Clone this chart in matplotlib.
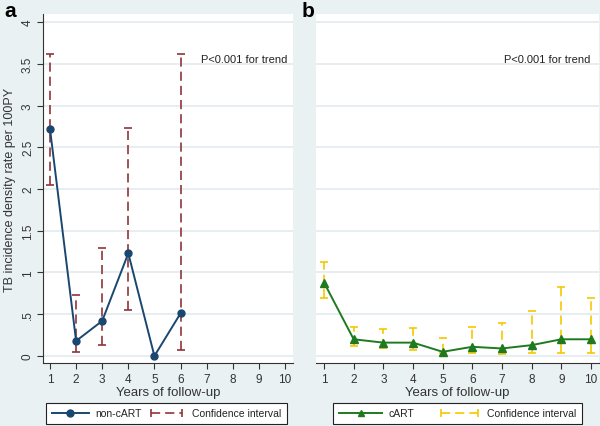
import matplotlib
matplotlib.use("Agg")
import matplotlib.pyplot as plt
from matplotlib.lines import Line2D
from matplotlib.legend_handler import HandlerLine2D
import numpy as np

plt.rcParams['font.family'] = ['Liberation Sans', 'DejaVu Sans']

# Panel a: non-cART
years_a = [1, 2, 3, 4, 5, 6]
rate_a = [2.72, 0.18, 0.42, 1.23, 0.0, 0.51]
ci_years_a = [1, 2, 3, 4, 6]
ci_low_a = [2.05, 0.05, 0.13, 0.55, 0.07]
ci_high_a = [3.62, 0.73, 1.29, 2.73, 3.62]

# Panel b: cART
years_b = [1, 2, 3, 4, 5, 6, 7, 8, 9, 10]
rate_b = [0.88, 0.20, 0.16, 0.16, 0.05, 0.11, 0.09, 0.13, 0.20, 0.20]
ci_low_b = [0.70, 0.12, 0.09, 0.07, 0.03, 0.03, 0.02, 0.03, 0.04, 0.04]
ci_high_b = [1.12, 0.35, 0.32, 0.33, 0.22, 0.35, 0.40, 0.54, 0.83, 0.69]

yticks = [0, 0.5, 1, 1.5, 2, 2.5, 3, 3.5, 4]
ytick_labels = ["0", ".5", "1", "1.5", "2", "2.5", "3", "3.5", "4"]
xticks = list(range(1, 11))

BG = '#EAF1F3'
GRID = '#E6EEF1'
NAVY = '#1A476F'
MAROON = '#90353B'
GREEN = '#1F7A1F'
GOLD = '#F5C800'

fig = plt.figure(figsize=(6, 4.27), dpi=100, facecolor=BG)

W, H = 600.0, 427.0
def ax_rect(x0, x1, y0, y1):
    return [x0 / W, 1 - y1 / H, (x1 - x0) / W, (y1 - y0) / H]

axa = fig.add_axes(ax_rect(43, 293, 15, 364))
axb = fig.add_axes(ax_rect(316, 599, 15, 364))

def style(ax, show_y):
    ax.set_facecolor('white')
    ax.set_ylim(-0.084, 4.096)
    ax.set_yticks(yticks)
    for y in yticks:
        ax.axhline(y, color=GRID, lw=1.4, zorder=0)
    ax.set_xticks(xticks)
    ax.set_xticklabels([str(x) for x in xticks], fontsize=8.5, color='#333333')
    ax.tick_params(axis='x', direction='out', length=4, width=0.8, color='#333333', pad=3)
    for s in ['top', 'right']:
        ax.spines[s].set_visible(False)
    ax.spines['bottom'].set_color('#333333')
    ax.spines['bottom'].set_linewidth(0.8)
    if show_y:
        ax.set_yticklabels(ytick_labels, fontsize=8.5, rotation=90, va='center', color='#333333')
        ax.tick_params(axis='y', direction='out', length=4, width=0.8, color='#333333', pad=2.5)
        ax.spines['left'].set_color('#333333')
        ax.spines['left'].set_linewidth(0.8)
        ax.set_ylabel('TB incidence density rate per 100PY', fontsize=9, color='#333333', labelpad=4)
    else:
        ax.spines['left'].set_visible(False)
        ax.tick_params(axis='y', left=False, labelleft=False)
    ax.set_xlabel('Years of follow-up', fontsize=9.5, color='#333333', labelpad=1)

style(axa, True)
style(axb, False)
axa.set_xlim(0.732, 10.31)
axb.set_xlim(0.73, 10.27)

dash = (0, (5.5, 3))

def draw(ax, xs, ys, cx, lo, hi, lcolor, ccolor, marker, ms):
    lo = np.array(lo); hi = np.array(hi)
    mid = (lo + hi) / 2
    eb = ax.errorbar(cx, mid, yerr=[mid - lo, hi - mid], fmt='none', ecolor=ccolor,
                     elinewidth=1.2, capsize=2.6, capthick=1.2, zorder=2)
    for lc in eb[2]:
        lc.set_linestyle(dash)
    ax.plot(xs, ys, color=lcolor, lw=1.4, marker=marker, ms=ms, mfc=lcolor, mec=lcolor, zorder=3)

draw(axa, years_a, rate_a, ci_years_a, ci_low_a, ci_high_a, NAVY, MAROON, 'o', 5)
draw(axb, years_b, rate_b, years_b, ci_low_b, ci_high_b, GREEN, GOLD, '^', 5.5)

axa.text(0.976, 0.871, 'P<0.001 for trend', transform=axa.transAxes, ha='right', va='center',
         fontsize=8, color='#222222')
axb.text(0.968, 0.871, 'P<0.001 for trend', transform=axb.transAxes, ha='right', va='center',
         fontsize=8, color='#222222')

fig.text(4 / W, 1 - 2 / H, 'a', fontsize=15, fontweight='bold', va='top', ha='left')
fig.text(302 / W, 1 - 2 / H, 'b', fontsize=15, fontweight='bold', va='top', ha='left')

def legend(x0, lcolor, ccolor, marker, label, colspace, hl):
    h1 = Line2D([], [], color=lcolor, lw=1.4, marker=marker, ms=5, mfc=lcolor, mec=lcolor)
    h2 = Line2D([], [], color=ccolor, lw=1.2, linestyle=dash, marker='|', ms=6, mew=1.2)
    leg = fig.legend([h1, h2], [label, 'Confidence interval'], ncol=2,
                     loc='lower left', bbox_to_anchor=(x0 / W, 1 - 425 / H),
                     fontsize=7.5, frameon=True, fancybox=False, edgecolor='#222222',
                     framealpha=1, handlelength=hl, handletextpad=0.6, columnspacing=colspace,
                     borderpad=0.55, borderaxespad=0,
                     handler_map={h1: HandlerLine2D(numpoints=1), h2: HandlerLine2D(numpoints=2)})
    leg.get_frame().set_linewidth(0.8)
    for t in leg.get_texts():
        t.set_color('#222222')
    return leg

legend(46, NAVY, MAROON, 'o', 'non-cART', 0.6, 3.6)
legend(333, GREEN, GOLD, '^', 'cART', 2.2, 4.2)

fig.savefig('out.png', dpi=100, facecolor=BG)
